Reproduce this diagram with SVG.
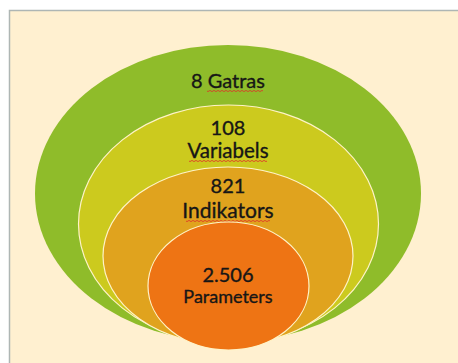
<svg xmlns="http://www.w3.org/2000/svg" width="458" height="363" viewBox="0 0 458 363">
<style>
.ring{stroke:#FFF3C8;stroke-width:1.2}
.t{font-family:Lato,"Liberation Sans",sans-serif;fill:#161616;stroke:#161616;stroke-width:0.35;text-anchor:middle}
.sq{fill:none;stroke:#E0302A;stroke-width:0.8}
</style>
<rect x="0" y="0" width="458" height="363" fill="#FFFFFF"/>
<rect x="9.5" y="10.5" width="460" height="370" fill="#FFF0D0" stroke="#AEB6B4" stroke-width="1.5"/>
<g id="gatras">
<ellipse cx="228" cy="193.5" rx="193" ry="148.5" fill="#8FBC2A"/>
<text class="t" x="228" y="88" font-size="20">8 Gatras</text>
<path class="sq" d="M207 91 q1 1.2 2 0 t2 0 t2 0 t2 0 t2 0 t2 0 t2 0 t2 0 t2 0 t2 0 t2 0 t2 0 t2 0 t2 0 t2 0 t2 0 t2 0 t2 0 t2 0 t2 0 t2 0 t2 0 t2 0 t2 0 t2 0 t2 0 t2 0 t2 0"/>
</g>
<g id="variabels">
<ellipse class="ring" cx="228.5" cy="224" rx="150" ry="119" fill="#CCCA1E"/>
<text class="t" x="228" y="135" font-size="20">108</text>
<text class="t" x="228" y="158" font-size="20.5">Variabels</text>
<path class="sq" d="M189 161 q1 1.2 2 0 t2 0 t2 0 t2 0 t2 0 t2 0 t2 0 t2 0 t2 0 t2 0 t2 0 t2 0 t2 0 t2 0 t2 0 t2 0 t2 0 t2 0 t2 0 t2 0 t2 0 t2 0 t2 0 t2 0 t2 0 t2 0 t2 0 t2 0 t2 0 t2 0 t2 0 t2 0 t2 0 t2 0 t2 0 t2 0 t2 0 t2 0 t2 0"/>
</g>
<g id="indikators">
<ellipse class="ring" cx="228" cy="256" rx="125" ry="89" fill="#E0A31E"/>
<text class="t" x="228" y="193" font-size="20">821</text>
<text class="t" x="228" y="218" font-size="21">Indikators</text>
<path class="sq" d="M186 221 q1 1.2 2 0 t2 0 t2 0 t2 0 t2 0 t2 0 t2 0 t2 0 t2 0 t2 0 t2 0 t2 0 t2 0 t2 0 t2 0 t2 0 t2 0 t2 0 t2 0 t2 0 t2 0 t2 0 t2 0 t2 0 t2 0 t2 0 t2 0 t2 0 t2 0 t2 0 t2 0 t2 0 t2 0 t2 0 t2 0 t2 0 t2 0 t2 0 t2 0 t2 0 t2 0 t2 0"/>
</g>
<g id="parameters">
<ellipse class="ring" cx="228.5" cy="286" rx="80.5" ry="64" fill="#EE7414"/>
<text class="t" x="228" y="282" font-size="20">2.506</text>
<text class="t" x="228" y="303" font-size="18">Parameters</text>
</g>
</svg>
